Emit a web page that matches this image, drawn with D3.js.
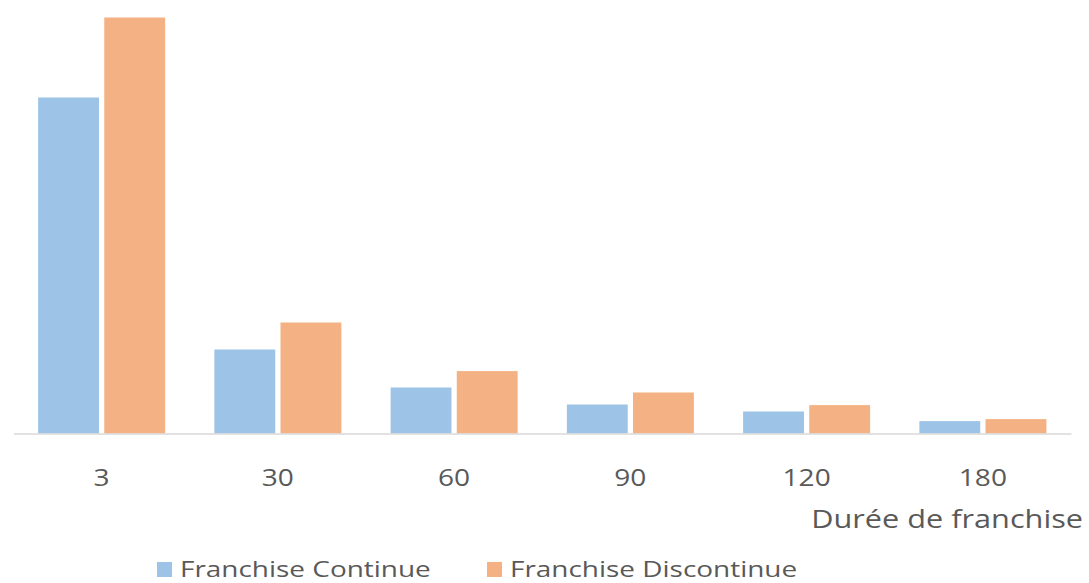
<!DOCTYPE html>
<html>
<head>
<meta charset="utf-8">
<script src="https://cdn.jsdelivr.net/npm/d3@7"></script>
<style>
  html, body { margin: 0; padding: 0; background: #fff; }
  svg { display: block; font-family: "Open Sans", "Noto Sans", sans-serif; }
</style>
</head>
<body>
<svg id="chart" width="1089" height="583"></svg>
<script>
// Durée de franchise (jours)
const categories = ["3", "30", "60", "90", "120", "180"];
const seriesNames = ["Franchise Continue", "Franchise Discontinue"];
const continueValues = [16.8, 4.2, 2.3, 1.45, 1.1, 0.62];
const discontinueValues = [20.8, 5.55, 3.12, 2.05, 1.42, 0.72];
const colors = ["#9dc3e6", "#f4b183"];

const rows = categories.map((c, i) => ({
  cat: c,
  values: [continueValues[i], discontinueValues[i]]
}));

const svg = d3.select("#chart");
const baseY = 433.5;

// widen glyphs horizontally (wide-set label face)
function widen(sel, k) {
  sel.each(function () {
    const w = this.getComputedTextLength();
    d3.select(this).attr("textLength", w * k).attr("lengthAdjust", "spacingAndGlyphs");
  });
}

const x0 = d3.scaleBand()
  .domain(categories)
  .range([13.5, 1071])
  .paddingInner(0.2794)
  .paddingOuter(0.1397);

const x1 = d3.scaleBand()
  .domain(seriesNames)
  .range([0, x0.bandwidth()])
  .paddingInner(0.08);

const y = d3.scaleLinear()
  .domain([0, 21.675])
  .range([baseY, 0]);

const color = d3.scaleOrdinal().domain(seriesNames).range(colors);

// bars
const groups = svg.append("g")
  .selectAll("g")
  .data(rows)
  .join("g")
  .attr("transform", d => `translate(${x0(d.cat)},0)`);

groups.selectAll("rect")
  .data(d => d.values.map((v, k) => ({ name: seriesNames[k], v })))
  .join("rect")
  .attr("x", d => x1(d.name))
  .attr("y", d => y(d.v))
  .attr("width", x1.bandwidth())
  .attr("height", d => baseY - y(d.v))
  .attr("fill", d => color(d.name));

// category axis
const xAxis = svg.append("g")
  .attr("transform", `translate(0,${baseY})`)
  .call(d3.axisBottom(x0).tickSize(0).tickPadding(52));
xAxis.select(".domain").attr("stroke", "#d9d9d9").attr("stroke-width", 1.5);
xAxis.selectAll("text")
  .attr("dy", "0")
  .attr("fill", "#595959")
  .style("font-size", "23px")
  .style("font-family", "'Open Sans', 'Noto Sans', sans-serif")
  .call(widen, 1.22);

// axis title
svg.append("text")
  .attr("x", 1083)
  .attr("y", 528)
  .attr("text-anchor", "end")
  .attr("fill", "#595959")
  .style("font-size", "26px")
  .text("Durée de franchise")
  .call(widen, 1.18);

// legend
const legend = svg.append("g").attr("transform", "translate(157,562)");
const legendX = [0, 330];
seriesNames.forEach((name, i) => {
  const g = legend.append("g").attr("transform", `translate(${legendX[i]},0)`);
  g.append("rect").attr("width", 15).attr("height", 15).attr("fill", color(name));
  g.append("text")
    .attr("x", 23)
    .attr("y", 15)
    .attr("fill", "#595959")
    .style("font-size", "21px")
    .text(name)
    .call(widen, 1.33);
});
</script>
</body>
</html>
